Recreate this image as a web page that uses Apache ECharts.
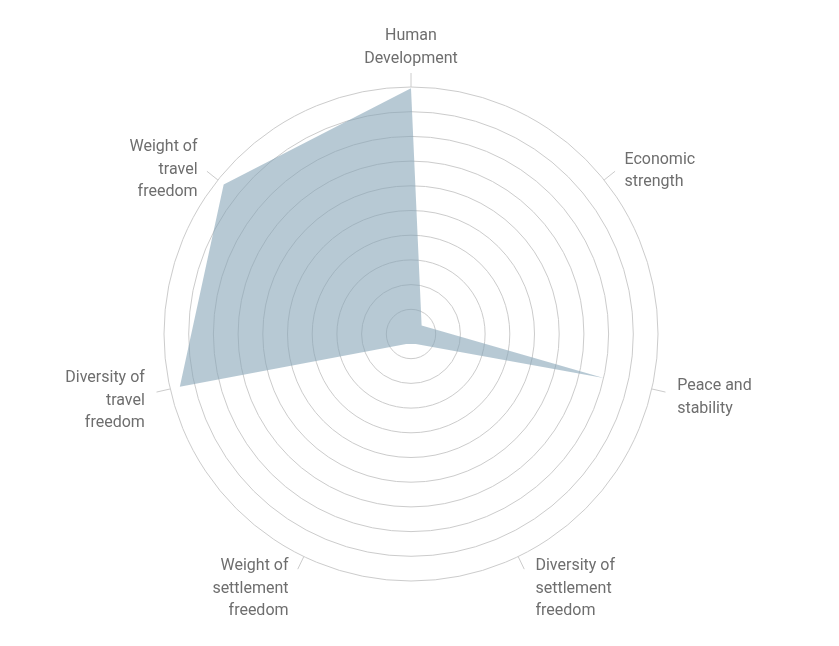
<!DOCTYPE html>
<html>
<head>
<meta charset="utf-8">
<script src="https://cdn.jsdelivr.net/npm/echarts@6/dist/echarts.min.js"></script>
<style>
html,body{margin:0;padding:0;background:#fff;}
#chart{width:839px;height:646px;}
</style>
</head>
<body>
<div id="chart"></div>
<script>
// Categories in clockwise order starting from the top
var categories = [
  'Human\nDevelopment',
  'Economic\nstrength',
  'Peace and\nstability',
  'Diversity of\nsettlement\nfreedom',
  'Weight of\nsettlement\nfreedom',
  'Diversity of\ntravel\nfreedom',
  'Weight of\ntravel\nfreedom'
];
var values = [9.95, 0.55, 8.0, 0.45, 0.45, 9.6, 9.7];
var maxValue = 10;

// Label style key per category (same order as categories)
var labelKeys = ['hd', 'ec', 'pe', 'ds', 'ws', 'dt', 'wt'];

// ECharts radar lays indicators counter-clockwise, so reorder for clockwise display
function toRadarOrder(arr) {
  return [arr[0]].concat(arr.slice(1).reverse());
}
var radarNames = toRadarOrder(categories);
var radarValues = toRadarOrder(values);

var chart = echarts.init(document.getElementById('chart'));
var CENTER = [411, 334];
var RADIUS = 247;
var BASE = { color: '#6e6e6e', fontSize: 16, fontFamily: 'Roboto', lineHeight: 22.5 };
function st(pad) { return Object.assign({}, BASE, { padding: pad }); }

chart.setOption({
  animation: false,
  backgroundColor: '#ffffff',
  polar: { center: CENTER, radius: RADIUS },
  angleAxis: {
    type: 'category',
    data: categories,
    startAngle: 90,
    boundaryGap: false,
    axisLine: { show: false },
    axisTick: { show: true, length: 14, lineStyle: { color: '#cccccc', width: 1 } },
    axisLabel: { show: false },
    splitLine: { show: false }
  },
  radiusAxis: { show: false, min: 0, max: maxValue },
  radar: {
    center: CENTER,
    radius: RADIUS,
    startAngle: 90,
    shape: 'circle',
    splitNumber: 10,
    axisNameGap: 26,
    indicator: radarNames.map(function (n) { return { name: n, max: maxValue, min: 0 }; }),
    axisName: Object.assign({}, BASE, {
      formatter: function (name) {
        var k = labelKeys[categories.indexOf(name)];
        return '{' + k + '|' + name + '}';
      },
      rich: {
        hd: st([18, 0, 0, 0]),
        ec: st([14, 0, 0, 0]),
        pe: st([6, 0, 0, 0]),
        ds: st([18, 0, 0, 6]),
        ws: st([18, 4, 0, 0]),
        dt: st([12, 0, 0, 0]),
        wt: st([12, 0, 0, 0])
      }
    }),
    splitLine: { lineStyle: { color: '#cccccc', width: 1 } },
    splitArea: { show: false },
    axisLine: { show: false },
    axisTick: { show: false },
    axisLabel: { show: false }
  },
  series: [{
    type: 'radar',
    symbol: 'none',
    lineStyle: { width: 0 },
    areaStyle: { color: 'rgb(135,165,183)', opacity: 0.6 },
    data: [{ value: radarValues }]
  }]
});
</script>
</body>
</html>
